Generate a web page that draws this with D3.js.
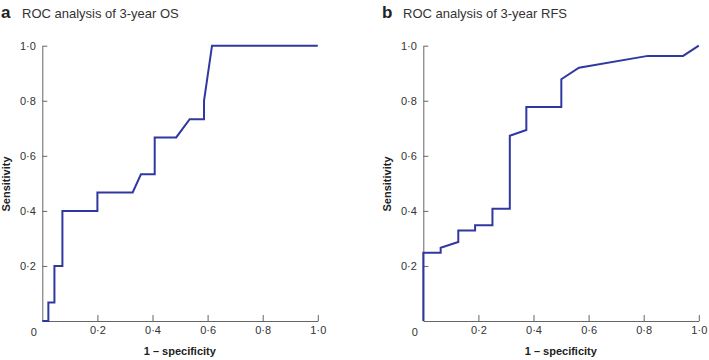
<!DOCTYPE html>
<html>
<head>
<meta charset="utf-8">
<script src="https://cdn.jsdelivr.net/npm/d3@7"></script>
<style>
  body { margin: 0; background: #fff; }
  text { font-family: "Liberation Sans", Arial, sans-serif; }
</style>
</head>
<body>
<script>
// panel a: ROC for 3-year OS
var osX = [0, 0.022, 0.022, 0.044, 0.044, 0.073, 0.073, 0.2, 0.2, 0.328, 0.358, 0.408, 0.408, 0.486, 0.535, 0.587, 0.587, 0.616, 1.0];
var osY = [0, 0, 0.067, 0.067, 0.2, 0.2, 0.4, 0.4, 0.467, 0.467, 0.533, 0.533, 0.667, 0.667, 0.733, 0.733, 0.8, 1.0, 1.0];
// panel b: ROC for 3-year RFS
var rfsX = [0, 0, 0.063, 0.063, 0.127, 0.127, 0.188, 0.188, 0.251, 0.251, 0.314, 0.314, 0.374, 0.374, 0.501, 0.501, 0.565, 0.815, 0.943, 1.0];
var rfsY = [0, 0.248, 0.248, 0.266, 0.287, 0.329, 0.329, 0.348, 0.348, 0.408, 0.408, 0.673, 0.694, 0.777, 0.777, 0.878, 0.92, 0.963, 0.963, 1.0];

var tickVals = [0.2, 0.4, 0.6, 0.8, 1.0];
var panelLetters = ["a", "b"];
var panelTitles = ["ROC analysis of 3-year OS", "ROC analysis of 3-year RFS"];
var xTitle = "1 \u2013 specificity";
var yTitle = "Sensitivity";

var svg = d3.select("body").append("svg")
  .attr("width", 709)
  .attr("height", 360);

var fmt = function (d) { return d3.format(".1f")(d).replace(".", "\u00b7"); };

function drawPanel(left, letterX, xs, ys, i) {
  var x = d3.scaleLinear().domain([0, 1]).range([left, left + 275.5]);
  var y = d3.scaleLinear().domain([0, 1]).range([321, 45.7]);
  var g = svg.append("g");

  // title
  g.append("text").attr("x", letterX).attr("y", 18)
    .attr("font-size", 17).attr("font-weight", "bold").attr("fill", "#222")
    .text(panelLetters[i]);
  g.append("text").attr("x", letterX + 21).attr("y", 18)
    .attr("font-size", 13).attr("fill", "#333")
    .text(panelTitles[i]);

  var ax = g.append("g").attr("transform", "translate(0,321)")
    .call(d3.axisBottom(x).tickValues(tickVals).tickSizeInner(-6).tickSizeOuter(0).tickPadding(5).tickFormat(fmt));
  var ay = g.append("g").attr("transform", "translate(" + left + ",0)")
    .call(d3.axisLeft(y).tickValues(tickVals).tickSizeInner(-5).tickSizeOuter(0).tickPadding(6.5).tickFormat(fmt));
  [ax, ay].forEach(function (a) {
    a.select(".domain").attr("stroke", "#666");
    a.selectAll(".tick line").attr("stroke", "#666");
    a.selectAll(".tick text").attr("font-size", 11).attr("fill", "#333")
      .style("font-family", "'Liberation Sans', Arial, sans-serif");
  });
  ax.selectAll(".tick text").attr("y", 5).attr("dy", "0.71em");

  // shared zero at the corner
  g.append("text").attr("x", left - 8.5).attr("y", 331.7).attr("dy", "0.35em")
    .attr("text-anchor", "middle").attr("font-size", 11).attr("fill", "#333").text("0");

  // axis titles
  g.append("text").attr("x", left + 137.5).attr("y", 354.5)
    .attr("text-anchor", "middle").attr("font-size", 11).attr("font-weight", "bold").attr("fill", "#222")
    .text(xTitle);
  g.append("text")
    .attr("transform", "translate(" + (left - 32.5) + "," + 184 + ") rotate(-90)")
    .attr("text-anchor", "middle").attr("font-size", 11).attr("font-weight", "bold").attr("fill", "#222")
    .text(yTitle);

  var line = d3.line()
    .x(function (d) { return x(d[0]); })
    .y(function (d) { return y(d[1]); });
  g.append("path")
    .datum(d3.zip(xs, ys))
    .attr("d", line)
    .attr("fill", "none")
    .attr("stroke", "#3038a0")
    .attr("stroke-width", 2)
    .attr("stroke-linejoin", "miter");
}

drawPanel(42.3, 1, osX, osY, 0);
drawPanel(423.3, 382, rfsX, rfsY, 1);
</script>
</body>
</html>
